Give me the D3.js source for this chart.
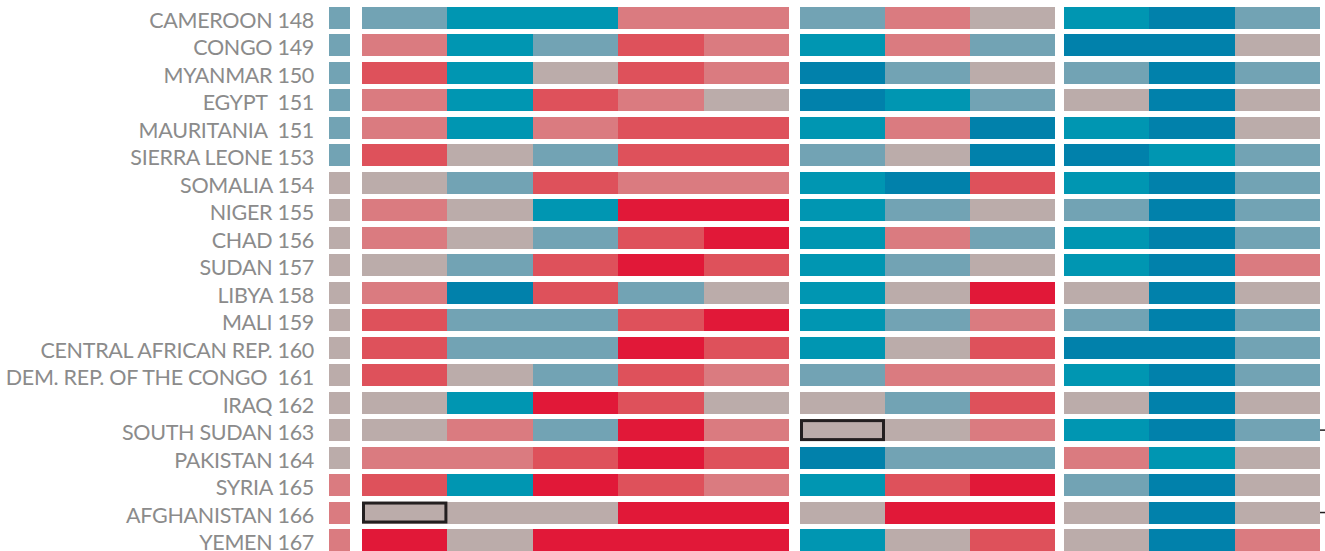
<!DOCTYPE html>
<html>
<head>
<meta charset="utf-8">
<script src="https://cdn.jsdelivr.net/npm/d3@7"></script>
<style>
  body { margin: 0; background: #fff; }
  text { white-space: pre; }
</style>
</head>
<body>
<div id="d3"></div>
<script>
// rows, top to bottom
const countries = ['CAMEROON', 'CONGO', 'MYANMAR', 'EGYPT ', 'MAURITANIA ', 'SIERRA LEONE', 'SOMALIA', 'NIGER',
  'CHAD', 'SUDAN', 'LIBYA', 'MALI', 'CENTRAL AFRICAN REP.', 'DEM. REP. OF THE CONGO ', 'IRAQ', 'SOUTH SUDAN',
  'PAKISTAN', 'SYRIA', 'AFGHANISTAN', 'YEMEN'];
const ranks = [148, 149, 150, 151, 151, 153, 154, 155, 156, 157, 158, 159, 160, 161, 162, 163, 164, 165, 166, 167];

// score classes 1 (best) .. 7 (worst)
const overall = [3, 3, 3, 3, 3, 3, 4, 4, 4, 4, 4, 4, 4, 4, 4, 4, 4, 5, 5, 5];
const groupA = [
  [3, 2, 2, 5, 5], [5, 2, 3, 6, 5], [6, 2, 4, 6, 5], [5, 2, 6, 5, 4], [5, 2, 5, 6, 6],
  [6, 4, 3, 6, 6], [4, 3, 6, 5, 5], [5, 4, 2, 7, 7], [5, 4, 3, 6, 7], [4, 3, 6, 7, 6],
  [5, 1, 6, 3, 4], [6, 3, 3, 6, 7], [6, 3, 3, 7, 6], [6, 4, 3, 6, 5], [4, 2, 7, 6, 4],
  [4, 5, 3, 7, 5], [5, 5, 6, 7, 6], [6, 2, 7, 6, 5], [4, 4, 4, 7, 7], [7, 4, 7, 7, 7]
];
const groupB = [
  [3, 5, 4], [2, 5, 3], [1, 3, 4], [1, 2, 3], [2, 5, 1], [3, 4, 1], [2, 1, 6], [2, 3, 4], [2, 5, 3], [2, 3, 4],
  [2, 4, 7], [2, 3, 5], [2, 4, 6], [3, 5, 5], [4, 3, 6], [4, 4, 5], [1, 3, 3], [2, 6, 7], [4, 7, 7], [2, 4, 6]
];
const groupC = [
  [2, 1, 3], [1, 1, 4], [3, 1, 3], [4, 1, 4], [2, 1, 4], [1, 2, 3], [2, 1, 3], [3, 1, 3], [2, 1, 3], [2, 1, 5],
  [4, 1, 4], [3, 1, 3], [1, 1, 3], [2, 1, 3], [4, 1, 4], [2, 1, 3], [5, 2, 4], [3, 1, 4], [4, 1, 4], [4, 1, 5]
];
const classes = [1, 2, 3, 4, 5, 6, 7];
const classColors = ['#0181ab', '#0096b2', '#72a3b4', '#bbacaa', '#da7b80', '#de515b', '#e11838'];
// outlined cells: [row, group, column]
const highlights = [['SOUTH SUDAN', 2, 0], ['AFGHANISTAN', 1, 0]];

const width = 1325, height = 551;
const svg = d3.select('#d3').append('svg').attr('width', width).attr('height', height);

const color = d3.scaleOrdinal().domain(classes).range(classColors);
const y = d3.scaleBand().domain(countries).range([7, 551]).paddingInner(0.2).paddingOuter(0);

const groups = [
  { data: overall.map(d => [d]), range: [329, 350] },
  { data: groupA, range: [362, 789] },
  { data: groupB, range: [800, 1055] },
  { data: groupC, range: [1064, 1320] }
];
groups.forEach(g => {
  g.x = d3.scaleBand().domain(d3.range(g.data[0].length)).range(g.range);
});

// cells
groups.forEach((g, gi) => {
  const cells = [];
  g.data.forEach((row, ri) => row.forEach((v, ci) => cells.push({ country: countries[ri], col: ci, v: v })));
  svg.append('g').attr('class', 'group' + gi).selectAll('rect')
    .data(cells).enter().append('rect')
    .attr('x', d => g.x(d.col)).attr('y', d => y(d.country))
    .attr('width', g.x.bandwidth()).attr('height', y.bandwidth())
    .attr('fill', d => color(d.v))
    .attr('shape-rendering', 'crispEdges');
});

// highlighted cells
svg.append('g').selectAll('rect')
  .data(highlights).enter().append('rect')
  .attr('x', d => groups[d[1]].x(d[2]) + 1.5).attr('y', d => y(d[0]) + 1.5)
  .attr('width', d => groups[d[1]].x.bandwidth() - 3).attr('height', y.bandwidth() - 3)
  .attr('fill', 'none').attr('stroke', '#231f20').attr('stroke-width', 3);

// little markers at the right edge
svg.append('g').selectAll('line')
  .data(highlights).enter().append('line')
  .attr('x1', 1320).attr('x2', 1325)
  .attr('y1', d => y(d[0]) + y.bandwidth() / 2).attr('y2', d => y(d[0]) + y.bandwidth() / 2)
  .attr('stroke', '#231f20').attr('stroke-width', 1.5);

// row labels
svg.append('g').selectAll('text')
  .data(countries).enter().append('text')
  .attr('x', 314).attr('y', d => y(d) + y.bandwidth() / 2 + 10)
  .attr('text-anchor', 'end')
  .attr('font-family', 'Lato, sans-serif').attr('font-size', 21.5)
  .attr('letter-spacing', -0.3)
  .attr('fill', '#8b8b8b')
  .text((d, i) => d + ' ' + ranks[i]);
</script>
</body>
</html>
